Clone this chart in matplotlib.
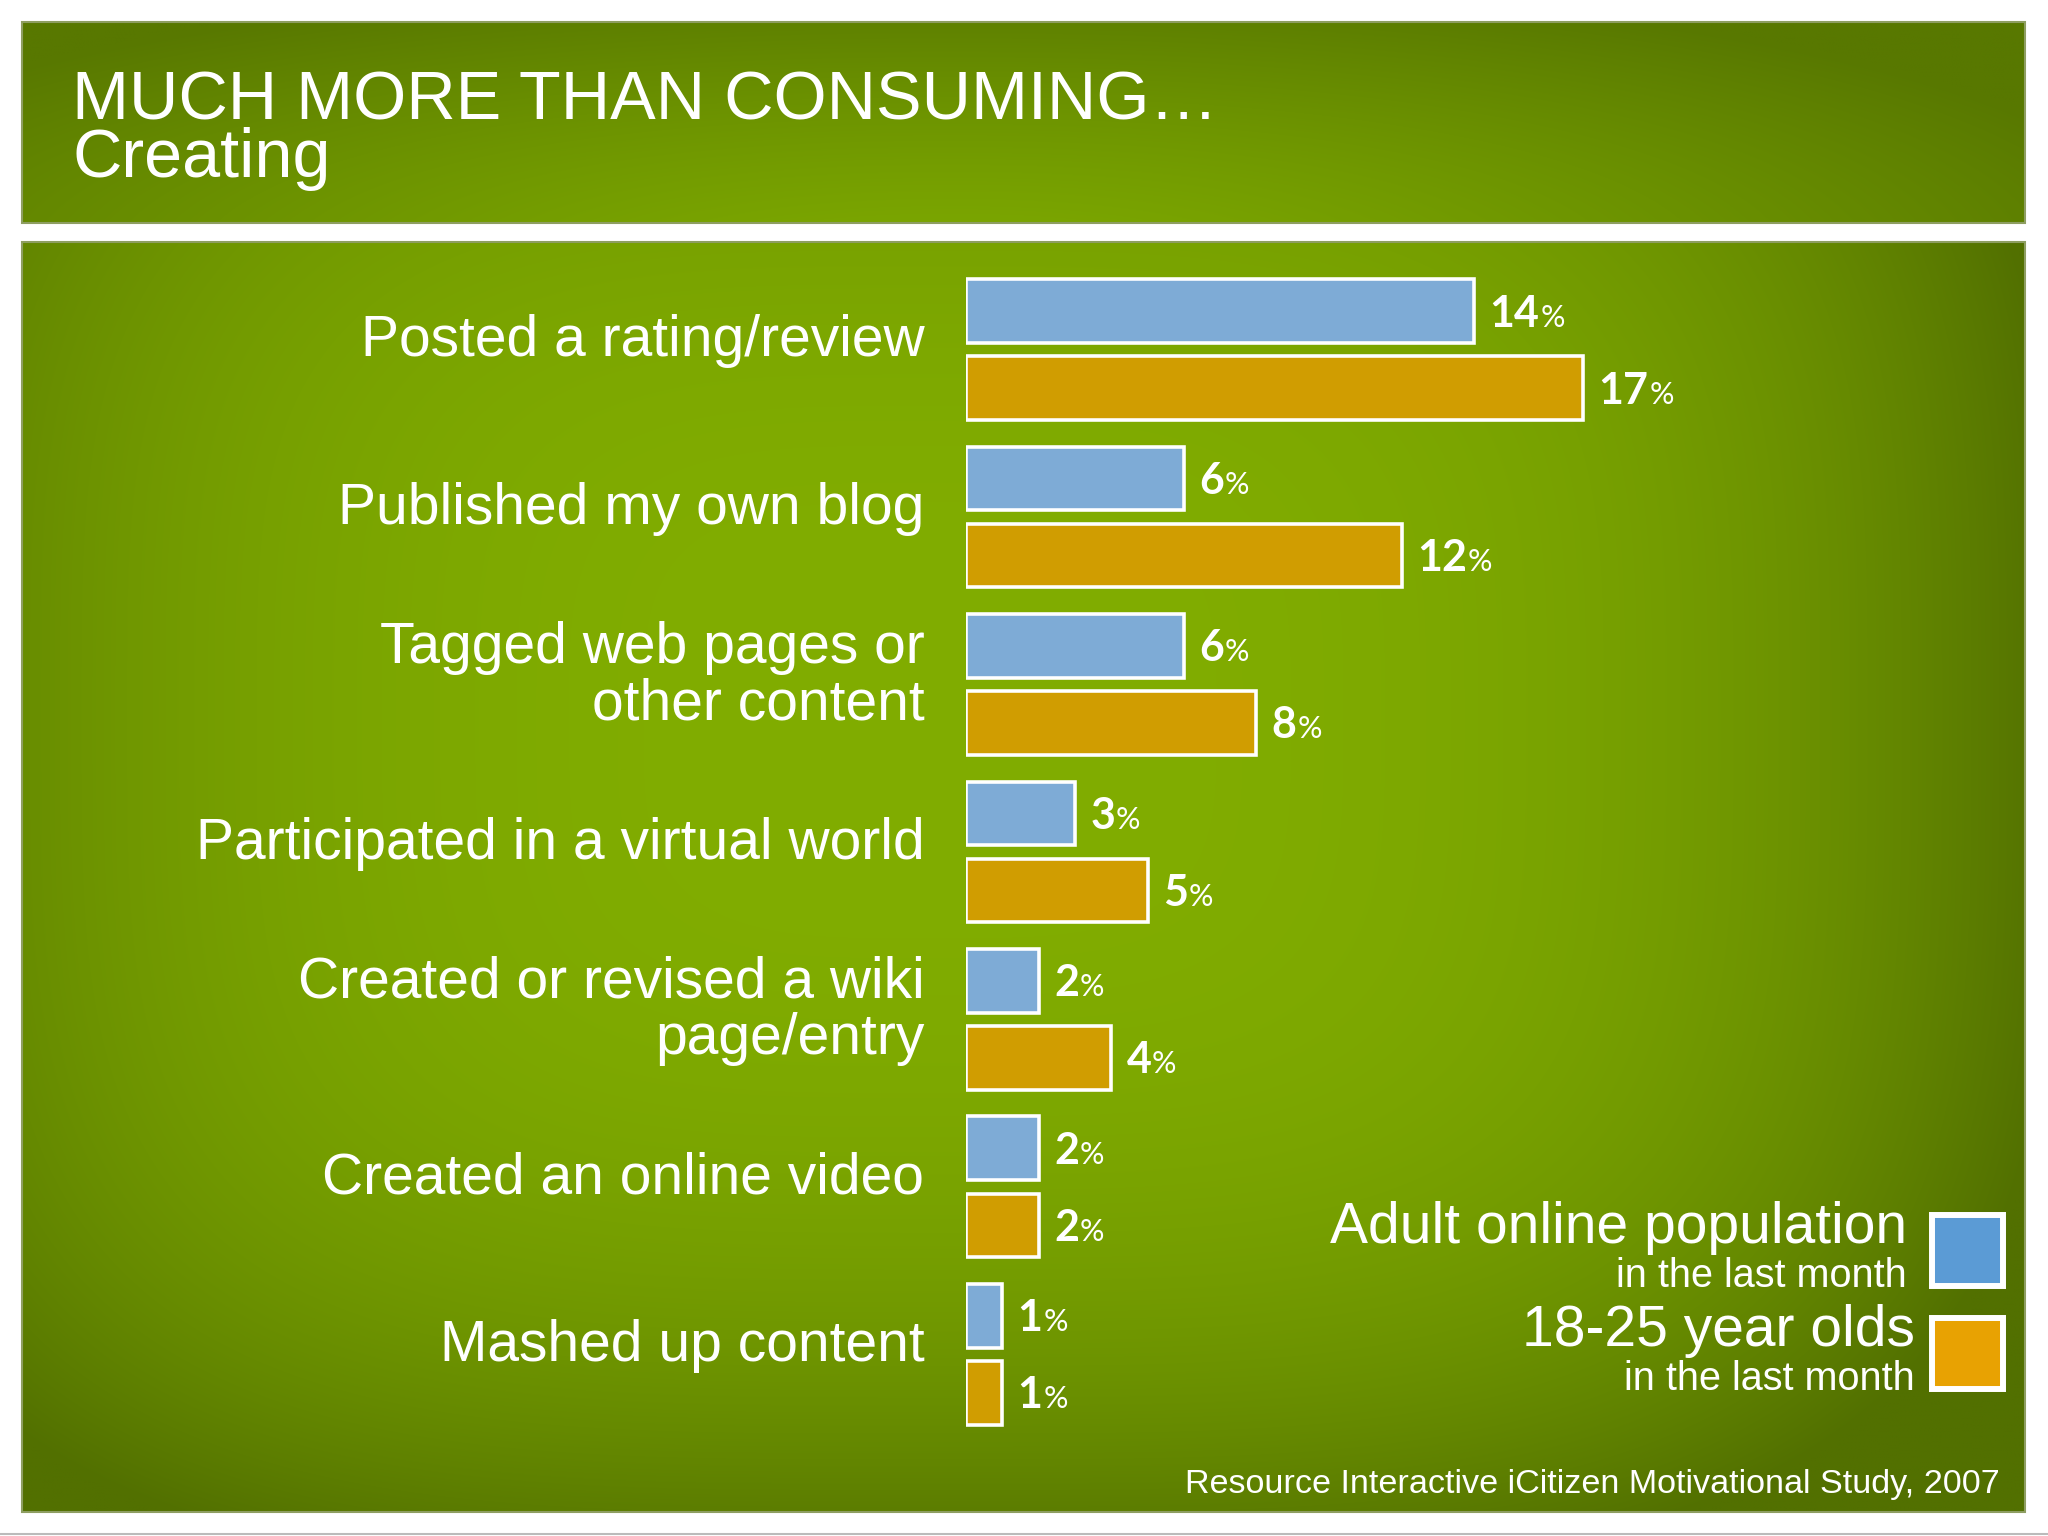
import numpy as np
import matplotlib.pyplot as plt
from matplotlib.patches import Rectangle

# ── Data ─────────────────────────────────────────────────────────────────────
categories = [
    "Posted a rating/review",
    "Published my own blog",
    "Tagged web pages or\nother content",
    "Participated in a virtual world",
    "Created or revised a wiki\npage/entry",
    "Created an online video",
    "Mashed up content",
]
adult_pct = [14, 6, 6, 3, 2, 2, 1]
young_pct = [17, 12, 8, 5, 4, 2, 1]

series_names = ["Adult online population", "18-25 year olds"]
series_note = "in the last month"
title = "MUCH MORE THAN CONSUMING\u2026"
subtitle = "Creating"
source = "Resource Interactive iCitizen Motivational Study, 2007"

BLUE = "#7EABD6"
ORANGE = "#D09D01"
LEG_BLUE = "#5B9BD5"
LEG_ORANGE = "#E8A202"
SANS = "Liberation Sans"
NUM = "Lato"

W, H = 2048, 1536
fig = plt.figure(figsize=(W / 100, H / 100), dpi=100)
fig.patch.set_facecolor("white")

# background axes in pixel units (y down)
bg = fig.add_axes([0, 0, 1, 1])


def panel(x0, y0, x1, y1, cx, cy, rx, ry, inner, outer, p, power):
    # superellipse-shaped gradient: flat bright middle, darker rim
    xs = np.linspace(x0, x1, 500)
    ys = np.linspace(y0, y1, 400)
    X, Y = np.meshgrid(xs, ys)
    d = (np.abs((X - cx) / rx) ** p + np.abs((Y - cy) / ry) ** p) ** (1 / p)
    d = np.clip(d, 0, 1) ** power
    inner = np.array(inner) / 255.0
    outer = np.array(outer) / 255.0
    img = inner * (1 - d[..., None]) + outer * d[..., None]
    bg.imshow(img, extent=(x0, x1, y1, y0), aspect="auto",
              interpolation="bilinear", zorder=0)
    bg.add_patch(Rectangle((x0, y0), x1 - x0, y1 - y0, fill=False,
                           ec="#8E9E62", lw=1.5, zorder=1))


# title panel and main panel
panel(22, 22, 2025, 223, 950, 280, 1250, 300, (126, 170, 0), (88, 120, 0), 2.2, 1.4)
panel(22, 242, 2025, 1512, 930, 720, 1130, 860, (129, 173, 0), (82, 112, 0), 3.5, 3.0)
bg.plot([0, W], [1534, 1534], color="#BBBBBB", lw=1.5, zorder=1)
bg.set_xlim(0, W)
bg.set_ylim(H, 0)
bg.axis("off")

# titles
bg.text(72, 119, title, fontsize=49.2, family=SANS, color="white", va="baseline")
bg.text(72, 177, subtitle, fontsize=49.2, family=SANS, color="white", va="baseline")

# source
bg.text(2000, 1493, source, fontsize=24.6, family=SANS, color="white",
        ha="right", va="baseline")

# legend
leg_y = [1250, 1353]
leg_colors = [LEG_BLUE, LEG_ORANGE]
leg_right = [1907, 1915]
for i, name in enumerate(series_names):
    bg.text(leg_right[i], leg_y[i] - 7, name, fontsize=41, family=SANS,
            color="white", ha="right", va="baseline")
    bg.text(leg_right[i], leg_y[i] + 37, series_note, fontsize=28.5, family=SANS,
            color="white", ha="right", va="baseline")
    bg.add_patch(Rectangle((1932, leg_y[i] - 35), 71, 71, fc=leg_colors[i],
                           ec="white", lw=4.3, zorder=3))

# ── Bars ─────────────────────────────────────────────────────────────────────
ax = fig.add_axes([966 / W, 1 - 1438 / H, 1053 / W, (1438 - 265.75) / H])
ax.patch.set_alpha(0)
y = np.arange(len(categories))
off, bh = 0.23, 0.38
ax.barh(y - off, adult_pct, height=bh, color=BLUE, edgecolor="white", lw=2.6)
ax.barh(y + off, young_pct, height=bh, color=ORANGE, edgecolor="white", lw=2.6)
ax.set_xlim(0, 29)
ax.set_ylim(len(categories) - 0.5, -0.5)
ax.axis("off")

for vals, dy in [(adult_pct, -off), (young_pct, off)]:
    for i, v in enumerate(vals):
        yy = i + dy
        t = ax.annotate(str(v), xy=(v, yy), xytext=(11, -11.2),
                        textcoords="offset points", fontsize=31,
                        fontweight="bold", family=NUM, color="white",
                        ha="left", va="baseline")
        ax.annotate("%", xy=(1, yy), xycoords=(t, "data"), xytext=(0.5, -11.2),
                    textcoords="offset points", fontsize=22, family=NUM,
                    color="white", ha="left", va="baseline")

for i, lab in enumerate(categories):
    ax.annotate(lab, xy=(0, i), xytext=(-30, 6), textcoords="offset points",
                fontsize=41, family=SANS, color="white", ha="right",
                va="center", linespacing=1.05, multialignment="right")

fig.savefig("out.png", dpi=100)
